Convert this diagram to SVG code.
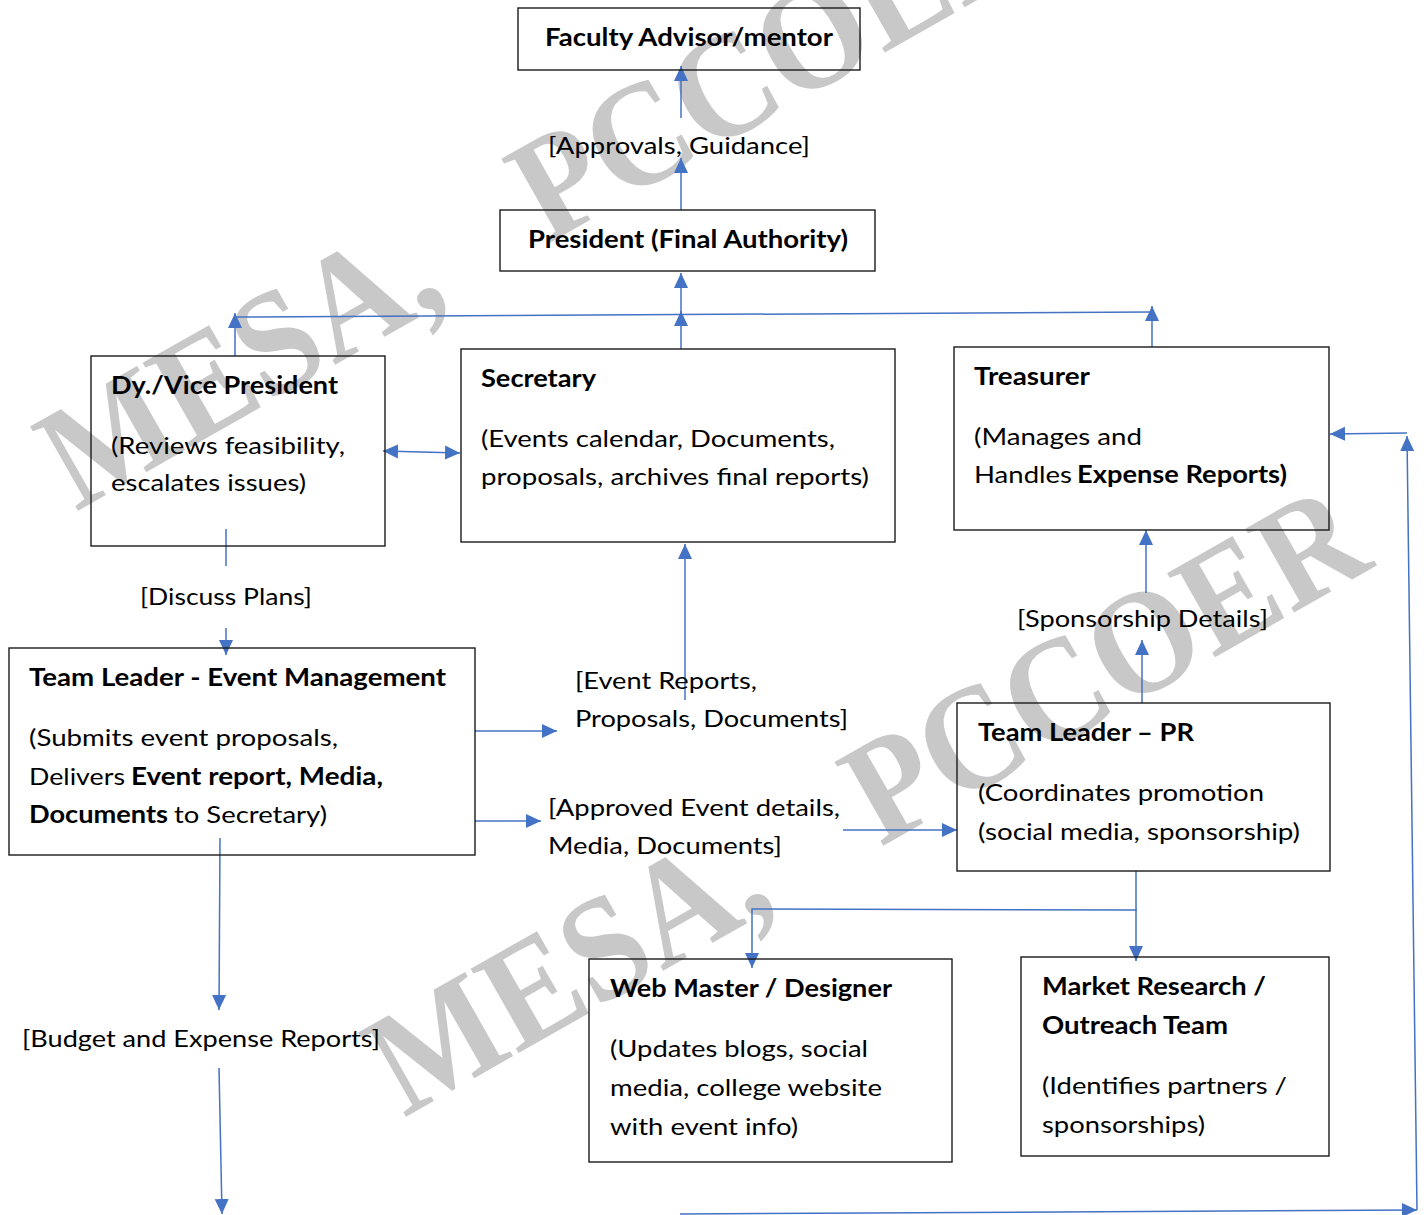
<svg xmlns="http://www.w3.org/2000/svg" width="1424" height="1215" viewBox="0 0 1424 1215">
<defs>
<style>
.box{fill:none;stroke:#1a1a1a;stroke-width:1.4}
.t{font-family:Lato,"Open Sans","Liberation Sans",sans-serif;font-size:24px;fill:#000}
.b{font-weight:bold}
.wm{font-family:"Liberation Serif","DejaVu Serif",serif;font-weight:bold;font-size:148px;fill:#c8c8c8}
.c{fill:none;stroke:#4472C4;stroke-width:1.5}
.a{marker-end:url(#ah)}
</style>
<marker id="ah" markerUnits="userSpaceOnUse" markerWidth="16" markerHeight="16" viewBox="0 0 16 16" refX="15" refY="8" orient="auto-start-reverse">
<path d="M0,1 L15,8 L0,15 Z" fill="#4472C4"/>
</marker>
</defs>
<rect width="1424" height="1215" fill="#fff"/>
<g id="watermark">
<g transform="translate(76 512) rotate(-29.6)">
<text class="wm" x="0" y="0" textLength="430" lengthAdjust="spacingAndGlyphs">MESA,</text>
<text class="wm" x="542" y="0" textLength="575" lengthAdjust="spacingAndGlyphs">PCCOER</text>
</g>
<g transform="translate(404 1118) rotate(-29.6)">
<text class="wm" x="0" y="0" textLength="430" lengthAdjust="spacingAndGlyphs">MESA,</text>
<text class="wm" x="548" y="0" textLength="570" lengthAdjust="spacingAndGlyphs">PCCOER</text>
</g>
</g>
<g id="connectors">
<line class="c a" x1="681" y1="210" x2="681" y2="158"/>
<line class="c a" x1="681" y1="118" x2="681" y2="66"/>
<line class="c a" x1="681" y1="349" x2="681" y2="311"/>
<line class="c a" x1="681" y1="317" x2="681" y2="273"/>
<line class="c a" x1="235" y1="356" x2="235" y2="313"/>
<line class="c" x1="235" y1="317" x2="1152" y2="312"/>
<line class="c a" x1="1152" y1="347" x2="1152" y2="306"/>
<line class="c a" x1="421" y1="452" x2="383" y2="451"/>
<line class="c a" x1="421" y1="452" x2="460" y2="453"/>
<line class="c" x1="226" y1="529" x2="226" y2="566"/>
<line class="c a" x1="226" y1="628" x2="226" y2="655"/>
<line class="c a" x1="685" y1="700" x2="685" y2="544"/>
<line class="c a" x1="475" y1="731" x2="557" y2="731"/>
<line class="c a" x1="475" y1="821" x2="541" y2="821"/>
<line class="c a" x1="843" y1="830" x2="957" y2="830"/>
<line class="c a" x1="1142" y1="703" x2="1142" y2="640"/>
<line class="c a" x1="1146" y1="593" x2="1146" y2="530"/>
<line class="c a" x1="1136" y1="871" x2="1136" y2="961"/>
<polyline class="c a" points="1137,910 752,909 752,968"/>
<line class="c a" x1="220" y1="838" x2="219" y2="1010"/>
<line class="c a" x1="219" y1="1068" x2="222" y2="1214"/>
<line class="c a" x1="680" y1="1214" x2="1417" y2="1210"/>
<line class="c a" x1="1417" y1="1210" x2="1407" y2="436"/>
<line class="c a" x1="1407" y1="433" x2="1330" y2="434"/>
<text class="t" x="548" y="154" textLength="262" lengthAdjust="spacingAndGlyphs">[Approvals, Guidance]</text>
<text class="t" x="140" y="605" textLength="172" lengthAdjust="spacingAndGlyphs">[Discuss Plans]</text>
<text class="t" x="575" y="689" textLength="182" lengthAdjust="spacingAndGlyphs">[Event Reports,</text>
<text class="t" x="575" y="727" textLength="273" lengthAdjust="spacingAndGlyphs">Proposals, Documents]</text>
<text class="t" x="548" y="816" textLength="292" lengthAdjust="spacingAndGlyphs">[Approved Event details,</text>
<text class="t" x="548" y="854" textLength="234" lengthAdjust="spacingAndGlyphs">Media, Documents]</text>
<text class="t" x="1017" y="627" textLength="251" lengthAdjust="spacingAndGlyphs">[Sponsorship Details]</text>
<text class="t" x="22" y="1047" textLength="358" lengthAdjust="spacingAndGlyphs">[Budget and Expense Reports]</text>
</g>
<g id="faculty">
<rect class="box" x="518" y="8" width="342" height="62"/>
<text class="t b" x="545" y="46" textLength="288" lengthAdjust="spacingAndGlyphs">Faculty Advisor/mentor</text>
</g>
<g id="president">
<rect class="box" x="500" y="210" width="375" height="61"/>
<text class="t b" x="528" y="248" textLength="320" lengthAdjust="spacingAndGlyphs">President (Final Authority)</text>
</g>
<g id="vice-president">
<rect class="box" x="91" y="356" width="294" height="190"/>
<text class="t b" x="111" y="394" textLength="227" lengthAdjust="spacingAndGlyphs">Dy./Vice President</text>
<text class="t" x="111" y="454" textLength="234" lengthAdjust="spacingAndGlyphs">(Reviews feasibility,</text>
<text class="t" x="111" y="491" textLength="195" lengthAdjust="spacingAndGlyphs">escalates issues)</text>
</g>
<g id="secretary">
<rect class="box" x="461" y="349" width="434" height="193"/>
<text class="t b" x="481" y="387" textLength="115" lengthAdjust="spacingAndGlyphs">Secretary</text>
<text class="t" x="481" y="447" textLength="354" lengthAdjust="spacingAndGlyphs">(Events calendar, Documents,</text>
<text class="t" x="481" y="485" textLength="388" lengthAdjust="spacingAndGlyphs">proposals, archives final reports)</text>
</g>
<g id="treasurer">
<rect class="box" x="954" y="347" width="375" height="183"/>
<text class="t b" x="974" y="385" textLength="116" lengthAdjust="spacingAndGlyphs">Treasurer</text>
<text class="t" x="974" y="445" textLength="168" lengthAdjust="spacingAndGlyphs">(Manages and</text>
<text class="t" x="974" y="483" textLength="98" lengthAdjust="spacingAndGlyphs">Handles</text>
<text class="t b" x="1077" y="483" textLength="210" lengthAdjust="spacingAndGlyphs">Expense Reports)</text>
</g>
<g id="team-leader-event">
<rect class="box" x="9" y="648" width="466" height="207"/>
<text class="t b" x="29" y="686" textLength="417" lengthAdjust="spacingAndGlyphs">Team Leader - Event Management</text>
<text class="t" x="29" y="746" textLength="309" lengthAdjust="spacingAndGlyphs">(Submits event proposals,</text>
<text class="t" x="29" y="785" textLength="96" lengthAdjust="spacingAndGlyphs">Delivers</text>
<text class="t b" x="131" y="785" textLength="252" lengthAdjust="spacingAndGlyphs">Event report, Media,</text>
<text class="t b" x="29" y="823" textLength="139" lengthAdjust="spacingAndGlyphs">Documents</text>
<text class="t" x="174" y="823" textLength="153" lengthAdjust="spacingAndGlyphs">to Secretary)</text>
</g>
<g id="team-leader-pr">
<rect class="box" x="957" y="703" width="373" height="168"/>
<text class="t b" x="978" y="741" textLength="216" lengthAdjust="spacingAndGlyphs">Team Leader – PR</text>
<text class="t" x="978" y="801" textLength="286" lengthAdjust="spacingAndGlyphs">(Coordinates promotion</text>
<text class="t" x="978" y="840" textLength="322" lengthAdjust="spacingAndGlyphs">(social media, sponsorship)</text>
</g>
<g id="web-master">
<rect class="box" x="589" y="959" width="363" height="203"/>
<text class="t b" x="610" y="997" textLength="282" lengthAdjust="spacingAndGlyphs">Web Master / Designer</text>
<text class="t" x="610" y="1057" textLength="258" lengthAdjust="spacingAndGlyphs">(Updates blogs, social</text>
<text class="t" x="610" y="1096" textLength="272" lengthAdjust="spacingAndGlyphs">media, college website</text>
<text class="t" x="610" y="1135" textLength="188" lengthAdjust="spacingAndGlyphs">with event info)</text>
</g>
<g id="market-research">
<rect class="box" x="1021" y="957" width="308" height="199"/>
<text class="t b" x="1042" y="995" textLength="224" lengthAdjust="spacingAndGlyphs">Market Research /</text>
<text class="t b" x="1042" y="1034" textLength="186" lengthAdjust="spacingAndGlyphs">Outreach Team</text>
<text class="t" x="1042" y="1094" textLength="245" lengthAdjust="spacingAndGlyphs">(Identifies partners /</text>
<text class="t" x="1042" y="1133" textLength="163" lengthAdjust="spacingAndGlyphs">sponsorships)</text>
</g>
</svg>
